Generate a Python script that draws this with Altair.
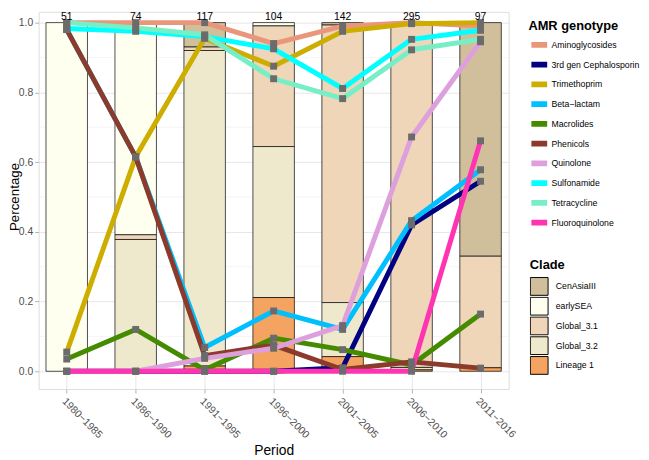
import altair as alt
import pandas as pd

# ---------------- data ----------------
periods = ["1980\u22121985", "1986\u22121990", "1991\u22121995", "1996\u22122000",
           "2001\u22122005", "2006\u22122010", "2011\u22122016"]
counts = [51, 74, 117, 104, 142, 295, 97]

clades = ["CenAsiaIII", "earlySEA", "Global_3.1", "Global_3.2", "Lineage 1"]
clade_colors = ["#D1BF9B", "#FFFFEF", "#EFD6B8", "#EEE8CD", "#F4A460"]
clade_CenAsiaIII = [0, 0, 0.07, 0, 0.007, 0, 0.67]
clade_earlySEA = [1.0, 0.608, 0, 0.0096, 0, 0.007, 0]
clade_Global_3_1 = [0, 0.0135, 0.01, 0.346, 0.796, 0.982, 0.32]
clade_Global_3_2 = [0, 0.378, 0.905, 0.433, 0.155, 0.007, 0]
clade_Lineage_1 = [0, 0, 0.015, 0.2115, 0.042, 0.004, 0.01]
clade_props = [clade_CenAsiaIII, clade_earlySEA, clade_Global_3_1,
               clade_Global_3_2, clade_Lineage_1]

genotypes = ["Aminoglycosides", "3rd gen Cephalosporin", "Trimethoprim",
             "Beta\u2212lactam", "Macrolides", "Phenicols", "Quinolone",
             "Sulfonamide", "Tetracycline", "Fluoroquinolone"]
geno_colors = ["#E9967A", "#000080", "#CDAD00", "#00BFFF", "#458B00",
               "#8B3A2B", "#DDA0DD", "#00FFFF", "#76EEC6", "#FF34B3"]
aminoglycosides = [1.0, 1.0, 1.0, 0.94, 0.99, 1.0, 0.99]
cephalosporin3 = [0, 0, 0, 0, 0.01, 0.42, 0.545]
trimethoprim = [0.055, 0.615, 0.955, 0.875, 0.975, 0.997, 1.0]
beta_lactam = [0.98, 0.615, 0.068, 0.173, 0.12, 0.432, 0.578]
macrolides = [0.035, 0.12, 0.004, 0.095, 0.062, 0.018, 0.164]
phenicols = [0.98, 0.615, 0.045, 0.075, 0.005, 0.027, 0.009]
quinolone = [0, 0, 0.037, 0.066, 0.131, 0.672, 0.945]
sulfonamide = [0.983, 0.975, 0.96, 0.925, 0.811, 0.952, 0.978]
tetracycline = [1.0, 0.985, 0.965, 0.839, 0.782, 0.922, 0.952]
fluoroquinolone = [0, 0, 0, 0, 0, 0, 0.661]
geno_values = [aminoglycosides, cephalosporin3, trimethoprim, beta_lactam,
               macrolides, phenicols, quinolone, sulfonamide, tetracycline,
               fluoroquinolone]

y_ticks = [0.0, 0.2, 0.4, 0.6, 0.8, 1.0]
y_minor = [0.1, 0.3, 0.5, 0.7, 0.9]

# ---------------- tables ----------------
bar_rows = []
for ci, (c, vals) in enumerate(zip(clades, clade_props)):
    for pi, v in enumerate(vals):
        if v > 0:
            bar_rows.append({"pos": pi + 1, "clade": c, "prop": v,
                             "rank": len(clades) - ci})
bar_df = pd.DataFrame(bar_rows)

line_rows = []
for gi, (g, vals) in enumerate(zip(genotypes, geno_values)):
    for pi, v in enumerate(vals):
        line_rows.append({"pos": pi + 1, "genotype": g, "value": v, "gi": gi})
line_df = pd.DataFrame(line_rows)

count_df = pd.DataFrame({"pos": list(range(1, len(periods) + 1)),
                         "n": [str(c) for c in counts]})
minor_df = pd.DataFrame({"v": y_minor})

FONT = "Liberation Sans"
label_expr = "[" + ",".join("'" + p + "'" for p in periods) + "][datum.value - 1]"

xscale = alt.Scale(domain=[0.664, 7.336], nice=False, zero=False)
yscale = alt.Scale(domain=[-0.051, 1.031], nice=False, zero=False)

xaxis = alt.Axis(values=list(range(1, len(periods) + 1)), labelExpr=label_expr,
                 labelAngle=45, labelAlign="left", labelBaseline="top",
                 labelFontSize=10.5, labelColor="#4D4D4D", labelFont=FONT,
                 labelFlush=False, labelOverlap=False, labelPadding=3,
                 tickColor="#B3B3B3", tickSize=4, domain=False,
                 grid=True, gridColor="#E0E0E0", gridWidth=0.8,
                 title="Period", titleFontSize=14, titleFontWeight="normal",
                 titleColor="black", titleFont=FONT, titleY=66,
                 titleBaseline="alphabetic")
yaxis = alt.Axis(values=y_ticks, format=".1f", labelFontSize=10.5,
                 labelColor="#4D4D4D", labelFont=FONT, labelPadding=2,
                 tickColor="#B3B3B3", tickSize=4, domain=False,
                 grid=True, gridColor="#E0E0E0", gridWidth=0.8,
                 title="Percentage", titleFontSize=13.5, titleFontWeight="normal",
                 titleColor="black", titleFont=FONT, titleX=-20.5, titleY=187,
                 titleBaseline="alphabetic", titleAlign="center")

minor = alt.Chart(minor_df).mark_rule(color="#EEEEEE", strokeWidth=0.6).encode(
    y=alt.Y("v:Q", scale=yscale, axis=yaxis)
)

bars = alt.Chart(bar_df).mark_bar(size=42, stroke="black", strokeWidth=0.7).encode(
    x=alt.X("pos:Q", scale=xscale, axis=xaxis),
    y=alt.Y("prop:Q", scale=yscale, axis=yaxis, stack="zero"),
    fill=alt.Fill("clade:N", scale=alt.Scale(domain=clades, range=clade_colors),
                  legend=alt.Legend(title="Clade", orient="none", legendX=497.4,
                                    legendY=250.7, symbolType="square", symbolSize=324,
                                    symbolStrokeColor="black", symbolStrokeWidth=1,
                                    symbolOpacity=1, rowPadding=0, clipHeight=19.8,
                                    labelOffset=7.3,
                                    labelFontSize=8.8, labelFont=FONT, labelColor="black",
                                    titleFontSize=13, titleFont=FONT,
                                    titleFontWeight="bold", titleColor="black",
                                    titlePadding=4.5, padding=0)),
    order=alt.Order("rank:Q", sort="ascending"),
)

lines = alt.Chart(line_df).mark_line(strokeWidth=5, strokeJoin="round").encode(
    x=alt.X("pos:Q", scale=xscale),
    y=alt.Y("value:Q", scale=yscale),
    color=alt.Color("genotype:N", scale=alt.Scale(domain=genotypes, range=geno_colors),
                    legend=alt.Legend(title="AMR genotype", orient="none",
                                      legendX=496, legendY=8.3, symbolType="stroke",
                                      symbolStrokeWidth=6, symbolSize=256,
                                      rowPadding=0, clipHeight=19.56, labelOffset=1.3,
                                      labelFontSize=8.8, labelFont=FONT, labelColor="black",
                                      titleFontSize=13, titleFont=FONT,
                                      titleFontWeight="bold", titleColor="black",
                                      titlePadding=2.4, padding=0)),
    order=alt.Order("pos:Q"),
)

points = alt.Chart(line_df).mark_square(size=49, color="#6B6B6B", opacity=1).encode(
    x=alt.X("pos:Q", scale=xscale),
    y=alt.Y("value:Q", scale=yscale),
)

labels = alt.Chart(count_df).mark_text(fontSize=10.5, font=FONT, color="black",
                                       baseline="alphabetic", dy=-2.5).encode(
    x=alt.X("pos:Q", scale=xscale),
    y=alt.datum(1.0),
    text="n:N",
)

chart = alt.layer(minor, bars, lines, points, labels).properties(
    width=476, height=382,
    padding={"left": 31, "top": 1, "right": 134, "bottom": 69},
    autosize=alt.AutoSizeParams(type="none"),
).configure_view(stroke="#B3B3B3", strokeWidth=1).configure(font=FONT)

chart.save("out.html", embed_options={"renderer": "svg", "actions": False})
